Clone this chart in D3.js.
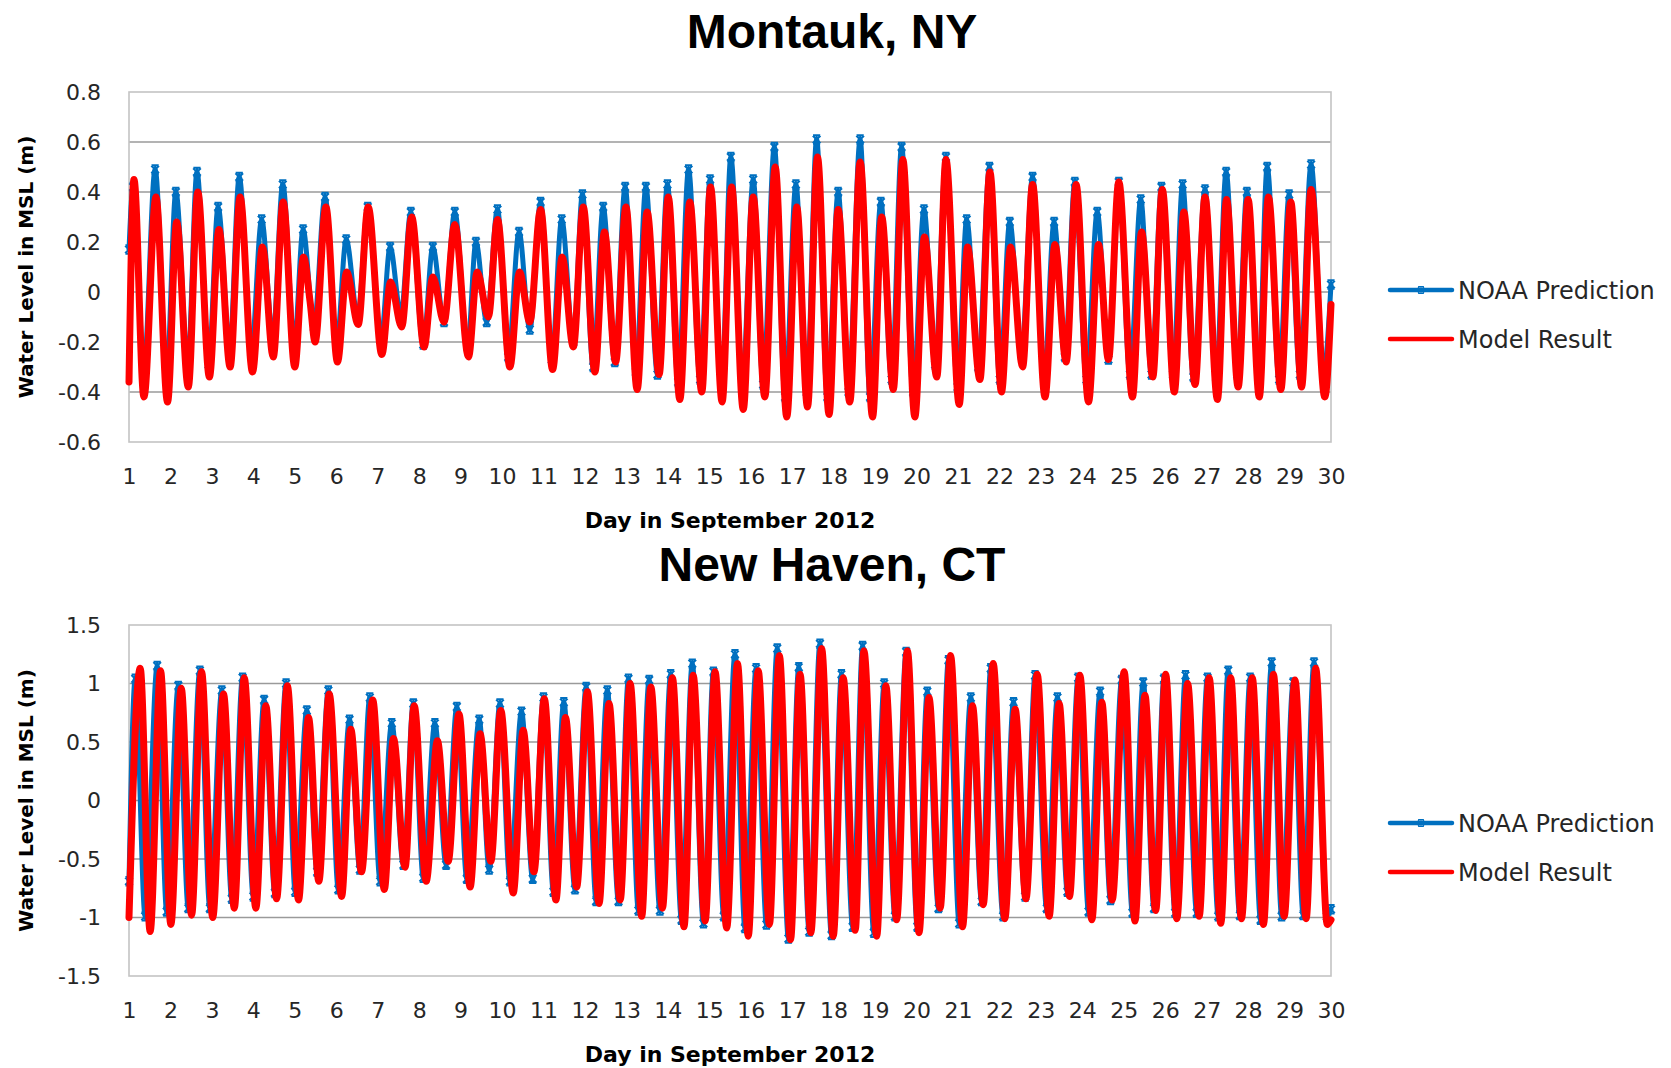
<!DOCTYPE html>
<html>
<head>
<meta charset="utf-8">
<script src="https://cdn.jsdelivr.net/npm/d3@7"></script>
<style>
  html, body { margin: 0; padding: 0; background: #ffffff; }
  svg { display: block; }
</style>
</head>
<body>
<svg id="chart" width="1671" height="1068"></svg>
<script>
// ---- Data: tide extremes (day in September 2012, water level in m relative to MSL) ----

const dayTicks = [1,2,3,4,5,6,7,8,9,10,11,12,13,14,15,16,17,18,19,20,21,22,23,24,25,26,27,28,29,30];

const seriesNames = ["NOAA Prediction", "Model Result"];

const montaukTicks = [-0.6, -0.4, -0.2, 0, 0.2, 0.4, 0.6, 0.8];
const montaukTickLabels = ["-0.6", "-0.4", "-0.2", "0", "0.2", "0.4", "0.6", "0.8"];

const newHavenTicks = [-1.5, -1, -0.5, 0, 0.5, 1, 1.5];
const newHavenTickLabels = ["-1.5", "-1", "-0.5", "0", "0.5", "1", "1.5"];

const montaukNoaa = [
  [1.00,0.17],[1.10,0.42],[1.36,-0.30],[1.63,0.49],[1.91,-0.32],[2.13,0.40],[2.42,-0.28],[2.64,0.48],
  [2.92,-0.29],[3.15,0.34],[3.43,-0.22],[3.66,0.46],[3.95,-0.24],[4.20,0.29],[4.47,-0.18],[4.71,0.43],
  [4.99,-0.20],[5.20,0.25],[5.46,-0.14],[5.73,0.38],[6.01,-0.21],[6.24,0.21],[6.52,-0.10],[6.76,0.34],
  [7.08,-0.19],[7.30,0.18],[7.56,-0.09],[7.80,0.32],[8.10,-0.21],
  [8.33,0.18],[8.60,-0.12],[8.86,0.32],[9.17,-0.22],[9.37,0.20],[9.63,-0.12],[9.89,0.33],[10.15,-0.26],
  [10.41,0.24],[10.67,-0.15],[10.93,0.36],[11.20,-0.27],[11.44,0.29],[11.72,-0.20],[11.94,0.39],[12.20,-0.30],
  [12.44,0.34],[12.72,-0.28],[12.97,0.42],[13.23,-0.32],[13.47,0.42],[13.75,-0.33],[13.99,0.43],[14.25,-0.36],
  [14.50,0.49],[14.78,-0.35],[15.02,0.45],[15.30,-0.37],
  [15.52,0.54],[15.80,-0.36],[16.06,0.45],[16.30,-0.37],[16.57,0.58],[16.83,-0.42],[17.09,0.43],[17.35,-0.40],
  [17.59,0.61],[17.85,-0.42],[18.11,0.40],[18.36,-0.40],[18.64,0.61],[18.88,-0.42],[19.14,0.36],[19.40,-0.35],
  [19.64,0.58],[19.92,-0.40],[20.18,0.33],[20.45,-0.29],[20.71,0.54],[20.99,-0.38],[21.21,0.29],[21.49,-0.30],
  [21.76,0.50],[22.01,-0.35],[22.25,0.28],[22.53,-0.25],
  [22.80,0.46],[23.08,-0.33],[23.32,0.28],[23.58,-0.26],[23.82,0.44],[24.10,-0.35],[24.36,0.32],[24.63,-0.27],
  [24.88,0.44],[25.15,-0.33],[25.41,0.37],[25.67,-0.33],[25.91,0.42],[26.19,-0.33],[26.42,0.43],[26.68,-0.34],
  [26.96,0.41],[27.23,-0.34],[27.47,0.48],[27.74,-0.33],[27.97,0.40],[28.25,-0.35],[28.46,0.50],[28.75,-0.35],
  [28.99,0.39],[29.25,-0.33],[29.52,0.51],[29.82,-0.32],[30.00,0.03]
];

const montaukModel = [
  [1.00,-0.36],[1.12,0.45],[1.36,-0.42],[1.65,0.38],[1.93,-0.44],[2.15,0.28],[2.43,-0.38],[2.66,0.40],
  [2.94,-0.34],[3.17,0.25],[3.44,-0.30],[3.68,0.38],[3.98,-0.32],[4.22,0.18],[4.48,-0.26],[4.72,0.36],
  [5.00,-0.30],[5.21,0.14],[5.37,-0.04],[5.49,-0.20],[5.75,0.34],[6.03,-0.28],[6.25,0.08],[6.53,-0.13],
  [6.77,0.34],[7.10,-0.25],[7.31,0.04],[7.58,-0.14],[7.82,0.30],[8.12,-0.22],
  [8.33,0.06],[8.60,-0.12],[8.86,0.27],[9.19,-0.26],[9.40,0.08],[9.67,-0.10],[9.89,0.29],[10.19,-0.30],
  [10.42,0.08],[10.67,-0.12],[10.93,0.33],[11.22,-0.31],[11.45,0.14],[11.72,-0.22],[11.96,0.34],[12.24,-0.32],
  [12.47,0.24],[12.74,-0.28],[12.99,0.34],[13.26,-0.39],[13.50,0.32],[13.79,-0.33],[14.01,0.38],[14.29,-0.43],
  [14.53,0.36],[14.82,-0.40],[15.03,0.42],[15.31,-0.44],
  [15.54,0.42],[15.82,-0.47],[16.06,0.38],[16.34,-0.42],[16.59,0.50],[16.87,-0.50],[17.11,0.34],[17.37,-0.46],
  [17.61,0.54],[17.89,-0.49],[18.11,0.33],[18.39,-0.44],[18.64,0.52],[18.94,-0.50],[19.16,0.30],[19.44,-0.39],
  [19.67,0.53],[19.96,-0.50],[20.19,0.22],[20.49,-0.34],[20.71,0.53],[21.03,-0.45],[21.23,0.18],[21.53,-0.35],
  [21.77,0.48],[22.05,-0.40],[22.27,0.18],[22.56,-0.30],
  [22.80,0.43],[23.10,-0.42],[23.34,0.19],[23.61,-0.28],[23.85,0.43],[24.15,-0.44],[24.39,0.19],[24.63,-0.27],
  [24.88,0.44],[25.21,-0.42],[25.43,0.24],[25.70,-0.34],[25.93,0.41],[26.22,-0.40],[26.45,0.32],[26.72,-0.37],
  [26.96,0.38],[27.26,-0.43],[27.48,0.37],[27.76,-0.38],[28.00,0.37],[28.27,-0.42],[28.49,0.38],[28.79,-0.39],
  [29.03,0.36],[29.29,-0.38],[29.52,0.41],[29.85,-0.42],[30.00,-0.05]
];

const newHavenNoaa = [
  [1.00,-0.69],[1.15,1.04],[1.39,-0.99],[1.68,1.15],[1.91,-0.95],[2.19,0.98],[2.43,-0.92],[2.71,1.11],
  [2.95,-0.92],[3.24,0.94],[3.48,-0.84],[3.74,1.05],[4.00,-0.82],[4.26,0.86],[4.52,-0.79],[4.79,1.00],
  [5.01,-0.78],[5.29,0.77],[5.54,-0.61],[5.81,0.94],[6.05,-0.76],[6.32,0.69],[6.57,-0.59],[6.81,0.88],
  [7.06,-0.69],[7.34,0.66],[7.62,-0.55],[7.86,0.83],[8.10,-0.66],
  [8.38,0.66],[8.65,-0.55],[8.91,0.80],[9.15,-0.67],[9.45,0.69],[9.69,-0.59],[9.95,0.83],[10.19,-0.69],
  [10.47,0.76],[10.74,-0.67],[11.00,0.88],[11.24,-0.78],[11.49,0.84],[11.76,-0.76],[12.03,0.97],[12.27,-0.86],
  [12.54,0.94],[12.81,-0.86],[13.05,1.04],[13.29,-0.94],[13.55,1.03],[13.81,-0.94],[14.07,1.08],[14.33,-1.02],
  [14.59,1.17],[14.86,-1.05],[15.10,1.10],[15.35,-0.99],
  [15.62,1.25],[15.86,-1.09],[16.13,1.13],[16.38,-1.06],[16.64,1.30],[16.91,-1.18],[17.16,1.14],[17.41,-1.12],
  [17.67,1.34],[17.95,-1.15],[18.19,1.08],[18.46,-1.08],[18.70,1.32],[18.97,-1.13],[19.22,1.00],[19.48,-0.99],
  [19.75,1.27],[20.02,-1.08],[20.26,0.93],[20.53,-0.92],[20.77,1.20],[21.03,-1.05],[21.31,0.88],[21.57,-0.86],
  [21.79,1.13],[22.09,-0.99],[22.34,0.84],[22.62,-0.82],
  [22.86,1.07],[23.14,-0.92],[23.40,0.88],[23.64,-0.78],[23.90,1.05],[24.15,-0.95],[24.43,0.93],[24.68,-0.85],
  [24.95,1.03],[25.21,-0.96],[25.47,1.01],[25.73,-0.92],[25.97,1.04],[26.24,-0.96],[26.49,1.07],[26.76,-0.96],
  [27.02,1.05],[27.28,-0.99],[27.52,1.11],[27.80,-0.98],[28.05,1.05],[28.30,-1.02],[28.57,1.18],[28.81,-0.99],
  [29.09,1.01],[29.33,-0.98],[29.59,1.18],[29.90,-0.99],[30.00,-0.93]
];

const newHavenModel = [
  [1.00,-1.00],[1.27,1.13],[1.51,-1.12],[1.76,1.11],[2.01,-1.06],[2.26,0.96],[2.51,-0.98],[2.75,1.10],
  [3.02,-1.00],[3.28,0.91],[3.54,-0.92],[3.78,1.05],[4.06,-0.92],[4.30,0.81],[4.56,-0.84],[4.82,0.98],
  [5.09,-0.85],[5.33,0.71],[5.58,-0.69],[5.83,0.91],[6.13,-0.82],[6.35,0.61],[6.61,-0.61],[6.88,0.86],
  [7.16,-0.76],[7.38,0.53],[7.66,-0.57],[7.88,0.81],[8.17,-0.69],
  [8.44,0.51],[8.70,-0.52],[8.96,0.74],[9.23,-0.74],[9.47,0.57],[9.73,-0.52],[9.97,0.77],[10.27,-0.79],
  [10.51,0.60],[10.77,-0.61],[11.02,0.87],[11.30,-0.85],[11.53,0.71],[11.80,-0.74],[12.06,0.93],[12.34,-0.88],
  [12.58,0.83],[12.85,-0.85],[13.09,1.00],[13.37,-0.99],[13.59,0.97],[13.87,-0.92],[14.11,1.05],[14.39,-1.08],
  [14.61,1.07],[14.90,-1.03],[15.14,1.10],[15.42,-1.09],
  [15.68,1.17],[15.94,-1.16],[16.18,1.11],[16.45,-1.06],[16.69,1.24],[16.96,-1.19],[17.19,1.08],[17.45,-1.13],
  [17.71,1.30],[17.99,-1.16],[18.23,1.05],[18.52,-1.11],[18.73,1.28],[19.04,-1.16],[19.26,0.98],[19.52,-1.02],
  [19.78,1.28],[20.06,-1.13],[20.30,0.88],[20.57,-0.92],[20.82,1.24],[21.11,-1.08],[21.35,0.81],[21.61,-0.89],
  [21.85,1.17],[22.13,-1.01],[22.38,0.78],[22.64,-0.84],
  [22.91,1.08],[23.20,-0.99],[23.44,0.83],[23.69,-0.82],[23.94,1.07],[24.23,-1.02],[24.47,0.84],[24.72,-0.85],
  [25.01,1.10],[25.27,-1.03],[25.51,0.90],[25.77,-0.94],[26.01,1.08],[26.28,-1.01],[26.54,1.00],[26.82,-0.99],
  [27.06,1.05],[27.34,-1.05],[27.58,1.05],[27.84,-1.01],[28.10,1.05],[28.37,-1.06],[28.61,1.08],[28.87,-0.99],
  [29.13,1.03],[29.40,-1.01],[29.63,1.13],[29.91,-1.06],[30.00,-1.02]
];

// ---- Layout & styling ----
const svg = d3.select("#chart");
const COLORS = { noaa: "#0070C0", model: "#FF0000", grid: "#9a9a9a", frame: "#c4c4c4", text: "#262626" };
const TICK_FONT = "'DejaVu Sans', 'Liberation Sans', Arial, sans-serif";
const TITLE_FONT = "'Liberation Sans', Arial, sans-serif";

const plotLeft = 129, plotRight = 1331;

const panels = [
  { title: "Montauk, NY", titleY: 48, top: 92, bottom: 442,
    ticks: montaukTicks, labels: montaukTickLabels,
    noaa: montaukNoaa, model: montaukModel, legendY: 290 },
  { title: "New Haven, CT", titleY: 581, top: 625, bottom: 976,
    ticks: newHavenTicks, labels: newHavenTickLabels,
    noaa: newHavenNoaa, model: newHavenModel, legendY: 823 }
];

const x = d3.scaleLinear().domain([1, 30]).range([plotLeft, plotRight]);

// Excel-style "star" marker: an X crossed by a vertical stroke, capped top and bottom
const starPath = "M-3.8,-3.8L3.8,3.8M-3.8,3.8L3.8,-3.8M0,-4.2L0,4.2M-3.6,-4.2L3.6,-4.2M-3.6,4.2L3.6,4.2";

panels.forEach(p => {
  const ticks = p.ticks;
  const y = d3.scaleLinear().domain([ticks[0], ticks[ticks.length - 1]]).range([p.bottom, p.top]);
  const g = svg.append("g");

  // chart title
  g.append("text")
    .attr("x", 832).attr("y", p.titleY)
    .attr("text-anchor", "middle")
    .style("font-family", TITLE_FONT).style("font-weight", "bold").style("font-size", "48px")
    .style("fill", "#000")
    .text(p.title);

  // horizontal gridlines (interior ticks)
  g.append("g").selectAll("line")
    .data(ticks.slice(1, -1))
    .join("line")
    .attr("x1", plotLeft).attr("x2", plotRight)
    .attr("y1", d => y(d)).attr("y2", d => y(d))
    .attr("stroke", COLORS.grid).attr("stroke-width", 1.6);

  // plot frame
  g.append("rect")
    .attr("x", plotLeft).attr("y", p.top)
    .attr("width", plotRight - plotLeft).attr("height", p.bottom - p.top)
    .attr("fill", "none").attr("stroke", COLORS.frame).attr("stroke-width", 1.6);

  // y axis labels
  const yAxis = d3.axisLeft(y).tickValues(ticks)
    .tickFormat((d, i) => p.labels[i]).tickSize(0).tickPadding(4);
  const ya = g.append("g").attr("transform", `translate(${105},0)`).call(yAxis);
  ya.select(".domain").remove();
  ya.selectAll("text").style("font-family", TICK_FONT).style("font-size", "22px").style("fill", COLORS.text);

  // x axis labels
  const xAxis = d3.axisBottom(x).tickValues(dayTicks).tickFormat(d3.format("d")).tickSize(0).tickPadding(26);
  const xa = g.append("g").attr("transform", `translate(0,${p.bottom})`).call(xAxis);
  xa.select(".domain").remove();
  xa.selectAll("text").style("font-family", TICK_FONT).style("font-size", "22px").style("fill", COLORS.text);

  // axis titles
  g.append("text")
    .attr("transform", `translate(33,${(p.top + p.bottom) / 2}) rotate(-90)`)
    .attr("text-anchor", "middle")
    .style("font-family", TICK_FONT).style("font-weight", "bold").style("font-size", "20px")
    .style("fill", "#000")
    .text("Water Level in MSL (m)");

  g.append("text")
    .attr("x", (plotLeft + plotRight) / 2).attr("y", p.bottom + 86)
    .attr("text-anchor", "middle")
    .style("font-family", TICK_FONT).style("font-weight", "bold").style("font-size", "22px")
    .style("fill", "#000")
    .text("Day in September 2012");

  // series
  const line = d3.line()
    .x(d => x(d[0])).y(d => y(d[1]))
    .curve(d3.curveMonotoneX);

  g.append("path").datum(p.noaa)
    .attr("d", line)
    .attr("fill", "none").attr("stroke", COLORS.noaa)
    .attr("stroke-width", 5).attr("stroke-linejoin", "round").attr("stroke-linecap", "round");

  g.append("g").selectAll("path")
    .data(p.noaa)
    .join("path")
    .attr("transform", d => `translate(${x(d[0])},${y(d[1])})`)
    .attr("d", starPath)
    .attr("fill", "none").attr("stroke", COLORS.noaa).attr("stroke-width", 2);

  g.append("path").datum(p.model)
    .attr("d", line)
    .attr("fill", "none").attr("stroke", COLORS.model)
    .attr("stroke-width", 7).attr("stroke-linejoin", "round").attr("stroke-linecap", "round");

  // legend
  const legend = g.append("g").attr("transform", `translate(1390,${p.legendY})`);
  const items = [
    { name: seriesNames[0], color: COLORS.noaa, marker: true },
    { name: seriesNames[1], color: COLORS.model, marker: false }
  ];
  items.forEach((it, i) => {
    const row = legend.append("g").attr("transform", `translate(0,${i * 49})`);
    row.append("line")
      .attr("x1", 0).attr("x2", 62).attr("y1", 0).attr("y2", 0)
      .attr("stroke", it.color).attr("stroke-width", 4.5).attr("stroke-linecap", "round");
    if (it.marker) {
      row.append("path").attr("transform", "translate(31,0) scale(0.8)").attr("d", starPath)
        .attr("fill", "none").attr("stroke", it.color).attr("stroke-width", 1.4);
    }
    row.append("text")
      .attr("x", 68).attr("y", 9)
      .style("font-family", TICK_FONT).style("font-size", "24px").style("fill", COLORS.text)
      .text(it.name);
  });
});
</script>
</body>
</html>
